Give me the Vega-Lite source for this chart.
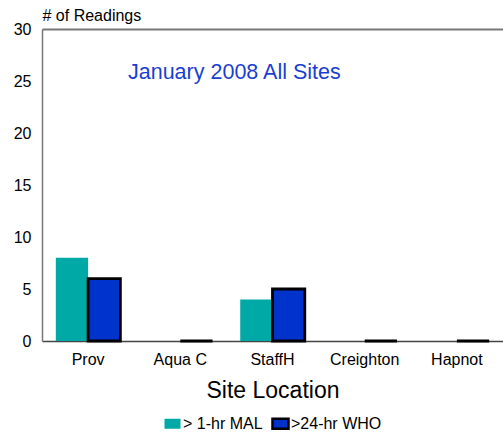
{
  "$schema": "https://vega.github.io/schema/vega-lite/v6.json",
  "width": 461,
  "height": 312,
  "autosize": {"type": "none"},
  "padding": {"left": 42, "top": 29, "right": 0, "bottom": 97},
  "background": "white",
  "title": {
    "text": "January 2008 All Sites",
    "anchor": "start",
    "frame": "group",
    "orient": "top",
    "dx": 86,
    "dy": 97,
    "fontSize": 21.5,
    "fontWeight": "normal",
    "font": "Liberation Sans",
    "color": "#1a3fd0",
    "baseline": "alphabetic"
  },
  "data": {
    "values": [
      {"site": "Prov", "series": "> 1-hr MAL", "readings": 8},
      {"site": "Prov", "series": ">24-hr WHO", "readings": 6},
      {"site": "Aqua C", "series": "> 1-hr MAL", "readings": 0},
      {"site": "Aqua C", "series": ">24-hr WHO", "readings": 0},
      {"site": "StaffH", "series": "> 1-hr MAL", "readings": 4},
      {"site": "StaffH", "series": ">24-hr WHO", "readings": 5},
      {"site": "Creighton", "series": "> 1-hr MAL", "readings": 0},
      {"site": "Creighton", "series": ">24-hr WHO", "readings": 0},
      {"site": "Hapnot", "series": "> 1-hr MAL", "readings": 0},
      {"site": "Hapnot", "series": ">24-hr WHO", "readings": 0}
    ]
  },
  "mark": {"type": "bar", "strokeWidth": 2.8},
  "encoding": {
    "x": {
      "field": "site",
      "type": "nominal",
      "sort": ["Prov", "Aqua C", "StaffH", "Creighton", "Hapnot"],
      "scale": {"paddingInner": 0.3, "paddingOuter": 0.15},
      "axis": {
        "title": "Site Location",
        "labelAngle": 0,
        "labelFontSize": 16,
        "labelBaseline": "alphabetic",
        "labelPadding": 23,
        "labelColor": "black",
        "ticks": false,
        "tickSize": 0,
        "domainColor": "#444",
        "domainWidth": 1.5,
        "titleFontSize": 23,
        "titleFontWeight": "normal",
        "titleColor": "black",
        "titleBaseline": "alphabetic",
        "titleY": 56
      }
    },
    "xOffset": {"field": "series", "type": "nominal", "sort": ["> 1-hr MAL", ">24-hr WHO"]},
    "y": {
      "field": "readings",
      "type": "quantitative",
      "scale": {"domain": [0, 30], "nice": false},
      "axis": {
        "title": "# of Readings",
        "titleAngle": 0,
        "titleX": 0,
        "titleY": -9,
        "titleAlign": "left",
        "titleBaseline": "alphabetic",
        "titleFontSize": 16,
        "titleFontWeight": "normal",
        "titleColor": "black",
        "values": [0, 5, 10, 15, 20, 25, 30],
        "labelFontSize": 16,
        "labelColor": "black",
        "labelPadding": 11,
        "ticks": false,
        "tickSize": 0,
        "domainColor": "#777",
        "domainWidth": 1.5,
        "grid": true,
        "gridColor": "#777",
        "gridWidth": 2,
        "gridOpacity": {"condition": {"test": "datum.value == 30", "value": 1}, "value": 0}
      }
    },
    "fill": {
      "field": "series",
      "type": "nominal",
      "sort": ["> 1-hr MAL", ">24-hr WHO"],
      "scale": {"range": ["#00a9a5", "#0033cc"]},
      "legend": {
        "title": null,
        "orient": "none",
        "direction": "horizontal",
        "legendX": 121,
        "legendY": 385,
        "padding": 0,
        "symbolType": "M-1,-0.625H1V0.625H-1Z",
        "symbolSize": 256,
        "symbolStrokeWidth": 2.5,
        "symbolOpacity": 1,
        "labelFontSize": 16,
        "labelColor": "black",
        "labelOffset": 1,
        "columnPadding": 4,
        "encode": {
          "symbols": {
            "update": {
              "stroke": {"signal": "datum.value === '>24-hr WHO' ? 'black' : 'transparent'"},
              "strokeWidth": {"value": 2.5}
            }
          }
        }
      }
    },
    "stroke": {
      "field": "series",
      "type": "nominal",
      "sort": ["> 1-hr MAL", ">24-hr WHO"],
      "scale": {"range": ["transparent", "black"]},
      "legend": null
    }
  },
  "config": {
    "font": "Liberation Sans",
    "view": {"stroke": null}
  }
}
